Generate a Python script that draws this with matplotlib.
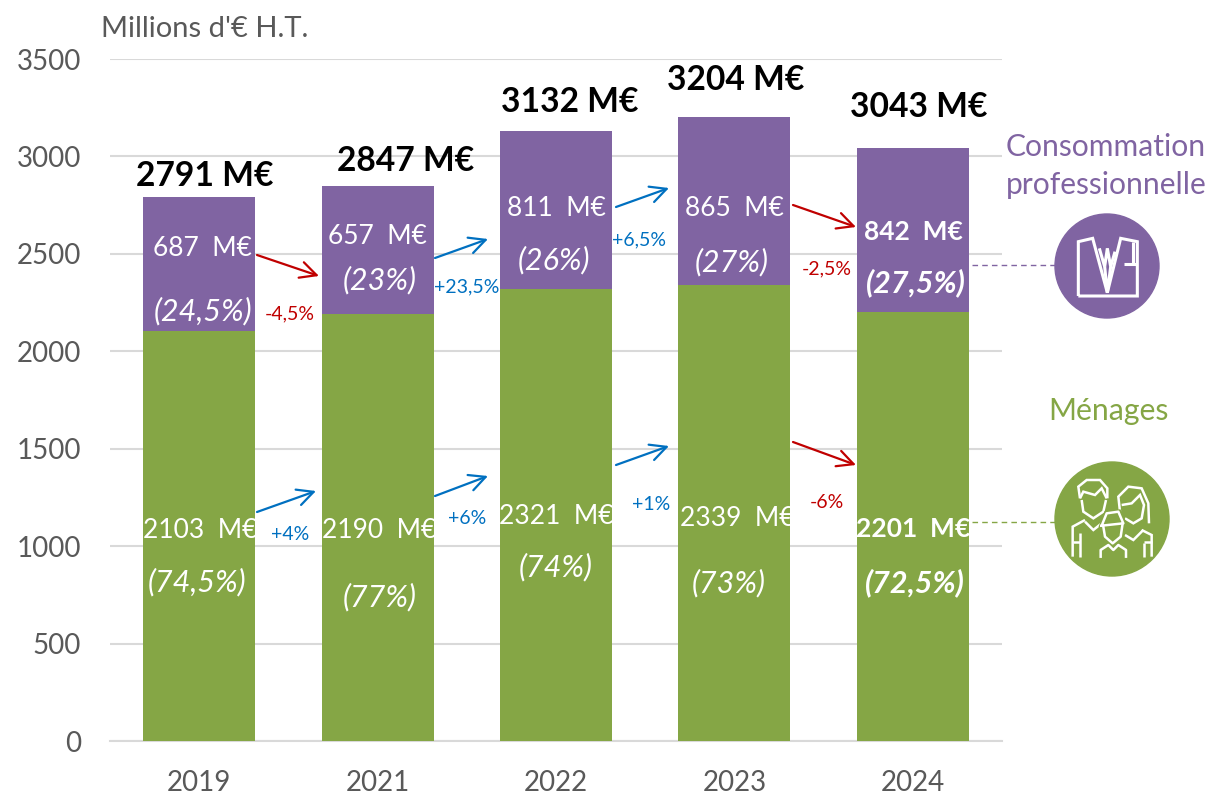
import matplotlib.pyplot as plt
from matplotlib.patches import Circle, Polygon

plt.rcParams['font.family'] = ['Lato', 'DejaVu Sans']

years = ['2019', '2021', '2022', '2023', '2024']
menages = [2103, 2190, 2321, 2339, 2201]
pros = [687, 657, 811, 865, 842]
totals = [2791, 2847, 3132, 3204, 3043]
pros_pct = ['(24,5%)', '(23%)', '(26%)', '(27%)', '(27,5%)']
menages_pct = ['(74,5%)', '(77%)', '(74%)', '(73%)', '(72,5%)']
pros_change = ['-4,5%', '+23,5%', '+6,5%', '-2,5%']
menages_change = ['+4%', '+6%', '+1%', '-6%']
yticks = [0, 500, 1000, 1500, 2000, 2500, 3000, 3500]

PURPLE = '#8064A2'
GREEN = '#85A645'
RED = '#C00000'
BLUE = '#0070C0'
GREY = '#595959'

fig = plt.figure(figsize=(12.1, 7.95), dpi=100)
ax = fig.add_axes([110 / 1210, 54 / 795, 892 / 1210, 682 / 795])
ax.bar(years, menages, width=0.628, color=GREEN, zorder=3)
ax.bar(years, pros, width=0.628, bottom=menages, color=PURPLE, zorder=3)
ax.set_xlim(-0.5, 4.5)
ax.set_ylim(0, 3500)
ax.set_yticks(yticks)
ax.grid(axis='y', color='#D9D9D9', lw=1.5, zorder=0)
ax.tick_params(length=0, labelcolor=GREY, labelsize=20)
ax.tick_params(axis='x', pad=21)
ax.tick_params(axis='y', pad=21)
for side in ['top', 'right', 'left']:
    ax.spines[side].set_visible(False)
ax.spines['bottom'].set_color('#D9D9D9')
ax.spines['bottom'].set_linewidth(1.5)

# overlay in pixels for the annotations
ov = fig.add_axes([0, 0, 1, 1], facecolor='none')
ov.set_xlim(0, 1210)
ov.set_ylim(795, 0)
ov.axis('off')


def label(pos, s, color='white', size=19, **kw):
    # lato sits a bit high when centred
    ov.text(pos[0], pos[1] + 2, s, color=color, fontsize=size, ha=kw.pop('ha', 'center'), va='center', **kw)


label((101, 27), "Millions d'€ H.T.", GREY, 21, ha='left')

total_pos = [(205, 174), (406, 159), (570, 100), (736, 78), (919, 105)]
for t, p in zip(totals, total_pos):
    label(p, f'{t} M€', 'black', 24.2, fontweight='bold')

pros_val_pos = [(202, 247), (377, 234), (556, 207), (734, 207), (913, 230)]
pros_pct_pos = [(203, 309), (380, 278), (554, 258), (732, 260), (916, 281)]
men_val_pos = [(200, 528), (379, 528), (556, 515), (737, 516), (913, 527)]
men_pct_pos = [(197, 580), (380, 595), (556, 565), (729, 581), (915, 581)]
for i in range(5):
    w = 'bold' if i == 4 else 'normal'
    label(pros_val_pos[i], f'{pros[i]}  M€', size=19, fontweight=w)
    label(pros_pct_pos[i], pros_pct[i], size=22, fontweight=w, style='italic')
    label(men_val_pos[i], f'{menages[i]}  M€', size=19, fontweight=w)
    label(men_pct_pos[i], menages_pct[i], size=22, fontweight=w, style='italic')

# evolution arrows and their labels
pros_arrows = [((257, 255), (319, 276)), ((435, 258), (488, 239)), ((616, 207), (669, 188)), ((793, 205), (856, 227))]
men_arrows = [((257, 512), (316, 491)), ((435, 496), (488, 476)), ((616, 465), (669, 446)), ((793, 442), (856, 465))]
pros_change_pos = [(290, 312), (467, 285), (639, 238), (827, 267)]
men_change_pos = [(290, 533), (467, 516), (651, 503), (827, 501)]
for arrows, labels, pos in [(pros_arrows, pros_change, pros_change_pos), (men_arrows, menages_change, men_change_pos)]:
    for a, lab, p in zip(arrows, labels, pos):
        c = RED if lab.startswith('-') else BLUE
        ov.annotate('', xy=a[1], xytext=a[0], arrowprops=dict(arrowstyle='->,head_length=0.9,head_width=0.45', color=c, lw=1.6, shrinkA=0, shrinkB=0, mutation_scale=13))
        label(p, lab, c, 14)

# legend on the right
label((1106, 145), 'Consommation', PURPLE, 21.6)
label((1106, 183), 'professionnelle', PURPLE, 21.6)
label((1108, 409), 'Ménages', GREEN, 21.8)
ov.plot([972, 1056], [265, 265], color=PURPLE, lw=1, ls=(0, (4, 3)))
ov.plot([972, 1056], [522, 522], color=GREEN, lw=1, ls=(0, (4, 3)))
ov.add_patch(Circle((1107, 266), 52, color=PURPLE))
ov.add_patch(Circle((1112, 519), 57, color=GREEN))


def draw_icon(lines, dx, dy, lw):
    for line in lines:
        xs = [dx + p[0] / 3 for p in line]
        ys = [dy + p[1] / 3 for p in line]
        ov.plot(xs, ys, color='white', lw=lw, solid_joinstyle='miter', solid_capstyle='butt')


# jacket icon
jacket = [[(235, 528), (235, 365), (278, 355), (322, 518), (362, 355), (412, 365), (412, 528), (235, 528)],
          [(298, 385), (314, 440), (322, 385), (332, 440), (345, 395)],
          [(314, 440), (322, 518), (332, 440)],
          [(372, 432), (412, 432)],
          [(400, 365), (400, 432)]]
draw_icon(jacket, 1000, 120, 2.2)

# family icon
father = [[(240, 355), (235, 320), (260, 300), (300, 300), (322, 325), (322, 355)],
          [(240, 355), (250, 335), (285, 345), (305, 325), (320, 355)],
          [(245, 360), (250, 395), (280, 415), (310, 395), (318, 360)],
          [(255, 425), (280, 450), (305, 430)],
          [(218, 530), (218, 440), (255, 420)],
          [(240, 530), (240, 460)],
          [(218, 485), (240, 485)]]
woman = [[(360, 395), (355, 350), (385, 320), (425, 325), (445, 370), (447, 430)],
         [(365, 375), (395, 370), (420, 345), (432, 375), (425, 415), (400, 430), (375, 415)],
         [(375, 465), (400, 480), (430, 450)],
         [(425, 450), (455, 465), (455, 530)],
         [(432, 530), (432, 490)],
         [(432, 485), (455, 485)]]
child = [[(305, 437), (320, 400), (355, 395), (370, 430), (305, 437)],
         [(310, 440), (315, 470), (338, 490), (362, 470), (368, 430)],
         [(302, 530), (302, 510), (325, 495), (340, 510), (355, 495), (378, 510), (378, 530)]]
draw_icon(father, 1000, 380, 1.8)
draw_icon(woman, 1000, 380, 1.8)
mask = [(1000 + x / 3, 380 + y / 3) for x, y in [(298, 440), (315, 395), (360, 390), (378, 430), (368, 480), (338, 500), (310, 480)]]
ov.add_patch(Polygon(mask, color=GREEN, zorder=2))
for line in child:
    xs = [1000 + p[0] / 3 for p in line]
    ys = [380 + p[1] / 3 for p in line]
    ov.plot(xs, ys, color='white', lw=1.8, zorder=3)

fig.savefig('out.png', dpi=100)
